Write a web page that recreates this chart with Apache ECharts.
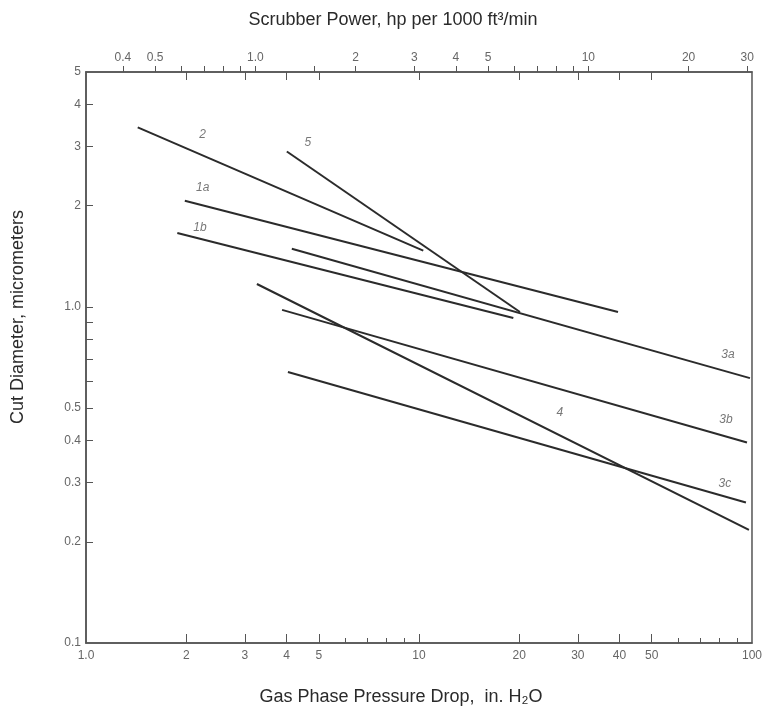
<!DOCTYPE html>
<html>
<head>
<meta charset="utf-8">
<script src="https://cdn.jsdelivr.net/npm/echarts@6/dist/echarts.min.js"></script>
<style>
  html, body { margin: 0; padding: 0; background: #fff; }
  #chart { width: 765px; height: 710px; }
</style>
</head>
<body>
<div id="chart"></div>
<script>
// Cut diameter vs. gas phase pressure drop for scrubber types (log-log)
const curveNames = ['2', '5', '1a', '1b', '3a', '3b', '3c', '4'];
// pressure drop (in. H2O) and cut diameter (µm) at each end of every curve
const startPressure = [1.43, 4.01, 1.98, 1.88, 4.15, 3.88, 4.04, 3.26];
const startDiameter = [3.42, 2.90, 2.07, 1.66, 1.49, 0.98, 0.64, 1.17];
const endPressure   = [10.3, 20.1, 39.6, 19.2, 98.6, 96.6, 95.9, 97.9];
const endDiameter   = [1.47, 0.966, 0.966, 0.927, 0.614, 0.395, 0.262, 0.217];
// where each curve's tag sits
const tagPressure = [2.24, 4.64, 2.24, 2.2, 84.7, 83.5, 82.9, 26.5];
const tagDiameter = [3.26, 3.08, 2.27, 1.72, 0.719, 0.463, 0.298, 0.483];

// tick values
const pressureLabels = [1, 2, 3, 4, 5, 10, 20, 30, 40, 50, 100];
const pressureMajorTicks = [2, 3, 4, 5, 10, 20, 30, 40, 50];
const pressureMinorTicks = [6, 7, 8, 9, 60, 70, 80, 90];
const diameterLabels = [0.1, 0.2, 0.3, 0.4, 0.5, 1, 2, 3, 4, 5];
const diameterTicks = [0.2, 0.3, 0.4, 0.5, 0.6, 0.7, 0.8, 0.9, 1, 2, 3, 4];
const powerLabels = [0.4, 0.5, 1, 2, 3, 4, 5, 10, 20, 30];
const powerTicks = [0.4, 0.5, 0.6, 0.7, 0.8, 0.9, 1, 1.5, 2, 3, 4, 5, 6, 7, 8, 9, 10, 20, 30];

const labelGrey = '#666';
const titleColor = '#2a2a2a';
const fontFamily = 'Liberation Sans, Arial, sans-serif';

const fmt = v => (Math.abs(v - 1) < 1e-9 ? '1.0' : (Math.abs(v - 0.1) < 1e-9 ? '0.1' : String(+v.toFixed(2))));

const chart = echarts.init(document.getElementById('chart'), null, { renderer: 'canvas' });

const lineSeries = curveNames.map((name, i) => ({
  name: name,
  type: 'line',
  xAxisIndex: 0,
  yAxisIndex: 0,
  symbol: 'none',
  silent: true,
  lineStyle: { color: '#2b2b2b', width: 2 },
  data: [[startPressure[i], startDiameter[i]], [endPressure[i], endDiameter[i]]]
}));

const tagSeries = {
  type: 'scatter',
  xAxisIndex: 0,
  yAxisIndex: 0,
  symbolSize: 0,
  silent: true,
  label: {
    show: true,
    position: 'inside',
    formatter: '{b}',
    color: '#555',
    fontStyle: 'italic',
    fontSize: 12,
    fontFamily: fontFamily
  },
  data: curveNames.map((name, i) => ({ name: name, value: [tagPressure[i], tagDiameter[i]] }))
};

function titleText(text, x, y, rotation) {
  return {
    type: 'text',
    x: x, y: y,
    rotation: rotation || 0,
    silent: true,
    style: {
      text: text,
      fill: titleColor,
      fontSize: 18,
      fontFamily: fontFamily,
      align: 'center', verticalAlign: 'middle',
      textAlign: 'center', textVerticalAlign: 'middle'
    }
  };
}

const tickLabelStyle = { formatter: fmt, color: labelGrey, fontSize: 12, fontFamily: fontFamily };

chart.setOption({
  animation: false,
  backgroundColor: '#fff',
  grid: {
    left: 86, right: 12, top: 72, bottom: 67,
    show: true, borderColor: '#555', borderWidth: 1.5
  },
  graphic: [
    titleText('Scrubber Power, hp per 1000 ft\u00B3/min', 393, 20),
    titleText('Gas Phase Pressure Drop,  in. H\u2082O', 401, 697),
    titleText('Cut Diameter, micrometers', 18, 317, Math.PI / 2)
  ],
  xAxis: [
    {
      type: 'log', logBase: 10, min: 1, max: 100, position: 'bottom',
      axisLine: { show: true, lineStyle: { color: '#555', width: 1.5 } },
      axisTick: { show: true, inside: true, length: 9, customValues: pressureMajorTicks, lineStyle: { color: '#555' } },
      axisLabel: Object.assign({ show: true, customValues: pressureLabels, margin: 7 }, tickLabelStyle),
      splitLine: { show: false }, minorTick: { show: false }
    },
    {
      type: 'log', logBase: 10, min: 1, max: 100, position: 'bottom',
      axisLine: { show: false },
      axisTick: { show: true, inside: true, length: 5, customValues: pressureMinorTicks, lineStyle: { color: '#555' } },
      axisLabel: { show: false },
      splitLine: { show: false }
    },
    {
      type: 'log', logBase: 10, min: 0.31, max: 31, position: 'top',
      axisLine: { show: true, lineStyle: { color: '#555', width: 1.5 } },
      axisTick: { show: true, inside: false, length: 6, customValues: powerTicks, lineStyle: { color: '#555' } },
      axisLabel: Object.assign({ show: true, customValues: powerLabels, margin: 8 }, tickLabelStyle),
      splitLine: { show: false }
    },
    {
      type: 'log', logBase: 10, min: 1, max: 100, position: 'top',
      axisLine: { show: false },
      axisTick: { show: true, inside: true, length: 8, customValues: pressureMajorTicks, lineStyle: { color: '#555' } },
      axisLabel: { show: false },
      splitLine: { show: false }
    }
  ],
  yAxis: [
    {
      type: 'log', logBase: 10, min: 0.1, max: 5, position: 'left',
      axisLine: { show: true, lineStyle: { color: '#555', width: 1.5 } },
      axisTick: { show: true, inside: true, length: 7, customValues: diameterTicks, lineStyle: { color: '#555' } },
      axisLabel: Object.assign({ show: true, customValues: diameterLabels, margin: 5 }, tickLabelStyle),
      splitLine: { show: false }
    }
  ],
  series: lineSeries.concat([tagSeries])
});
</script>
</body>
</html>
